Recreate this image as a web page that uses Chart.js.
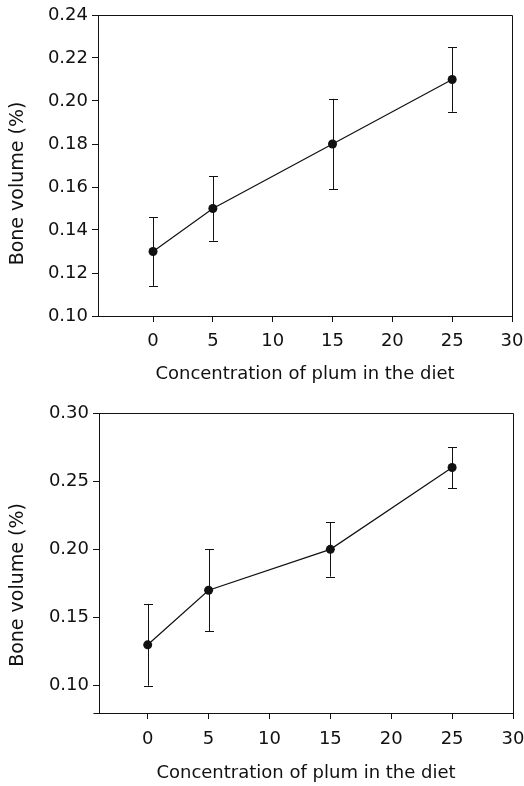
<!DOCTYPE html>
<html>
<head>
<meta charset="utf-8">
<script src="https://cdn.jsdelivr.net/npm/chart.js@4.4.0/dist/chart.umd.min.js"></script>
<style>
  html, body { margin: 0; padding: 0; background: #fff; }
  .panel { position: absolute; left: 0; width: 524px; height: 393px; }
  #top { top: 0; }
  #bottom { top: 393px; }
</style>
</head>
<body>
<div class="panel" id="top"><canvas id="chartTop"></canvas></div>
<div class="panel" id="bottom"><canvas id="chartBottom"></canvas></div>
<script>
// data
const concentration = [0, 5, 15, 25];
const xTicks = [0, 5, 10, 15, 20, 25, 30];

const topMean = [0.130, 0.150, 0.180, 0.210];
const topLow  = [0.114, 0.135, 0.159, 0.195];
const topHigh = [0.146, 0.165, 0.201, 0.225];
const topYTicks = [0.10, 0.12, 0.14, 0.16, 0.18, 0.20, 0.22, 0.24];

const bottomMean = [0.130, 0.170, 0.200, 0.260];
const bottomLow  = [0.100, 0.140, 0.180, 0.245];
const bottomHigh = [0.160, 0.200, 0.220, 0.275];
const bottomYTicks = [0.10, 0.15, 0.20, 0.25, 0.30];

const FONT = "'DejaVu Sans', sans-serif";
const INK = '#111';

// draws vertical error bars with caps, through the chart scales
const errorBars = {
    id: 'errorBars',
    beforeDatasetsDraw(chart, args, opts) {
        const ctx = chart.ctx;
        const xs = chart.scales.x, ys = chart.scales.y;
        ctx.save();
        ctx.strokeStyle = INK;
        ctx.lineWidth = 1;
        opts.x.forEach((xv, i) => {
            const px = Math.round(xs.getPixelForValue(xv)) + 0.5;
            const lo = ys.getPixelForValue(opts.low[i]);
            const hi = ys.getPixelForValue(opts.high[i]);
            ctx.beginPath();
            ctx.moveTo(px, lo); ctx.lineTo(px, hi);
            ctx.moveTo(px - 4.5, Math.round(lo) + 0.5); ctx.lineTo(px + 4.5, Math.round(lo) + 0.5);
            ctx.moveTo(px - 4.5, Math.round(hi) + 0.5); ctx.lineTo(px + 4.5, Math.round(hi) + 0.5);
            ctx.stroke();
        });
        ctx.restore();
    }
};

// closes the box round the plot area, and writes the y title a bit below centre
const frame = {
    id: 'frame',
    afterDraw(chart, args, opts) {
        const a = chart.chartArea, ctx = chart.ctx;
        const l = Math.round(a.left) + 0.5, r = Math.round(a.right) + 0.5;
        const t = Math.round(a.top) + 0.5, b = Math.round(a.bottom) + 0.5;
        ctx.save();
        ctx.strokeStyle = INK;
        ctx.lineWidth = 1;
        ctx.beginPath();
        ctx.moveTo(l - (opts.extend || 0), b);
        ctx.lineTo(r, b); ctx.lineTo(r, t); ctx.lineTo(l, t); ctx.lineTo(l, b);
        ctx.stroke();

        ctx.translate(18, (a.top + a.bottom) / 2 + opts.titleShift);
        ctx.rotate(-Math.PI / 2);
        ctx.fillStyle = INK;
        ctx.font = '19px ' + FONT;
        ctx.textAlign = 'center';
        ctx.textBaseline = 'middle';
        ctx.fillText(opts.yTitle, 0, 0);
        ctx.restore();
    }
};

function makeChart(id, means, low, high, yTicks, yMin, yMax, xMin, box) {
    const ctx = document.getElementById(id).getContext('2d');
    return new Chart(ctx, {
        type: 'line',
        data: {
            datasets: [{
                data: concentration.map((x, i) => ({ x: x, y: means[i] })),
                borderColor: INK,
                borderWidth: 1.2,
                backgroundColor: INK,
                pointRadius: 4.5,
                pointBackgroundColor: INK,
                pointBorderWidth: 0,
                tension: 0
            }]
        },
        options: {
            responsive: true,
            maintainAspectRatio: false,
            animation: false,
            events: [],
            layout: { padding: { left: 0, right: 524 - box.right, top: box.top, bottom: 0 } },
            plugins: {
                legend: { display: false },
                tooltip: { enabled: false },
                errorBars: { x: concentration, low: low, high: high },
                frame: { extend: box.extend, yTitle: 'Bone volume (%)', titleShift: box.titleShift }
            },
            scales: {
                x: {
                    type: 'linear',
                    min: xMin,
                    max: 30,
                    afterBuildTicks: s => { s.ticks = xTicks.map(v => ({ value: v })); },
                    afterFit: s => {
                        s.height = 393 - box.bottom;
                        s.paddingLeft = 0;
                        s.paddingRight = 0;
                    },
                    grid: { drawOnChartArea: false, tickLength: 6, color: INK },
                    border: { color: INK },
                    ticks: { color: INK, padding: box.tickPad, maxRotation: 0, font: { family: FONT, size: 18 } },
                    title: {
                        display: true,
                        text: 'Concentration of plum in the diet',
                        color: INK,
                        font: { family: FONT, size: 18 },
                        padding: { top: 0, bottom: box.titlePad }
                    }
                },
                y: {
                    min: yMin,
                    max: yMax,
                    afterBuildTicks: s => { s.ticks = yTicks.map(v => ({ value: v })); },
                    afterFit: s => {
                        s.width = box.left;
                        s.paddingTop = 0;
                        s.paddingBottom = 0;
                    },
                    grid: { drawOnChartArea: false, tickLength: 6, color: INK },
                    border: { color: INK },
                    ticks: {
                        color: INK, padding: 4,
                        font: { family: FONT, size: 18 },
                        callback: v => v.toFixed(2)
                    }
                }
            }
        },
        plugins: [errorBars, frame]
    });
}

makeChart('chartTop', topMean, topLow, topHigh, topYTicks, 0.10, 0.24, -4.6,
    { left: 98, right: 512, top: 15, bottom: 316, tickPad: 9, titlePad: 8, extend: 0, titleShift: 18 });
makeChart('chartBottom', bottomMean, bottomLow, bottomHigh, bottomYTicks, 0.08, 0.30, -4,
    { left: 99, right: 513, top: 20, bottom: 320, tickPad: 10, titlePad: 2, extend: 6, titleShift: 22 });
</script>
</body>
</html>
